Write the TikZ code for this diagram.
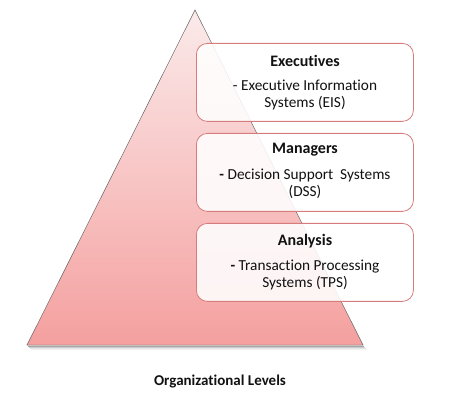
\documentclass[tikz,border=0pt]{standalone}
\usepackage{fontspec}
\setmainfont{Carlito}[Ligatures={NoCommon,NoDiscretionary}]
\definecolor{tritop}{HTML}{FBEAEA}
\definecolor{tribot}{HTML}{F4A09F}
\definecolor{boxline}{HTML}{D67C7C}
\definecolor{txt}{HTML}{111111}
\tikzset{
  levelbox/.style={draw=boxline, line width=0.8pt, rounded corners=11pt, fill=white, fill opacity=0.88, text opacity=1, minimum width=217pt, minimum height=78pt, anchor=north west},
  title/.style={font=\fontsize{16}{18}\selectfont\bfseries, text=txt},
  body/.style={font=\fontsize{15.3}{17}\selectfont, text=txt, align=center},
}
\begin{document}
\begin{tikzpicture}[x=1pt,y=-1pt]
\useasboundingbox (0,0) rectangle (452,411);
% soft shadow under base
\foreach \d/\o in {1/0.35,2/0.2,3/0.1,4/0.05}
  \draw[black, opacity=\o, line width=1pt] (27+\d,345+\d) -- (363+\d,345+\d);
% pyramid
\shade[top color=tritop, bottom color=tribot, draw=gray!80!black, line width=0.5pt]
  (195,10) -- (27,345) -- (363,345) -- cycle;
% boxes
\node[levelbox] (b1) at (196,43) {};
\node[levelbox] (b2) at (196,133) {};
\node[levelbox] (b3) at (196,223) {};
% texts
\node[title] (t1) at (305,61) {Executives};
\node[body] (d1) at (305,94.5) {- Executive Information\\Systems (EIS)};
\node[title] (t2) at (305,150) {Managers};
\node[body] (d2) at (305,183.5) {\textbf{-} Decision Support\ \ Systems\\(DSS)};
\node[title] (t3) at (305,241) {Analysis};
\node[body] (d3) at (305,274.5) {\textbf{-} Transaction Processing\\Systems (TPS)};
\node[title, font=\fontsize{15}{17}\selectfont\bfseries] (ol) at (220,382) {Organizational Levels};
\end{tikzpicture}
\end{document}
